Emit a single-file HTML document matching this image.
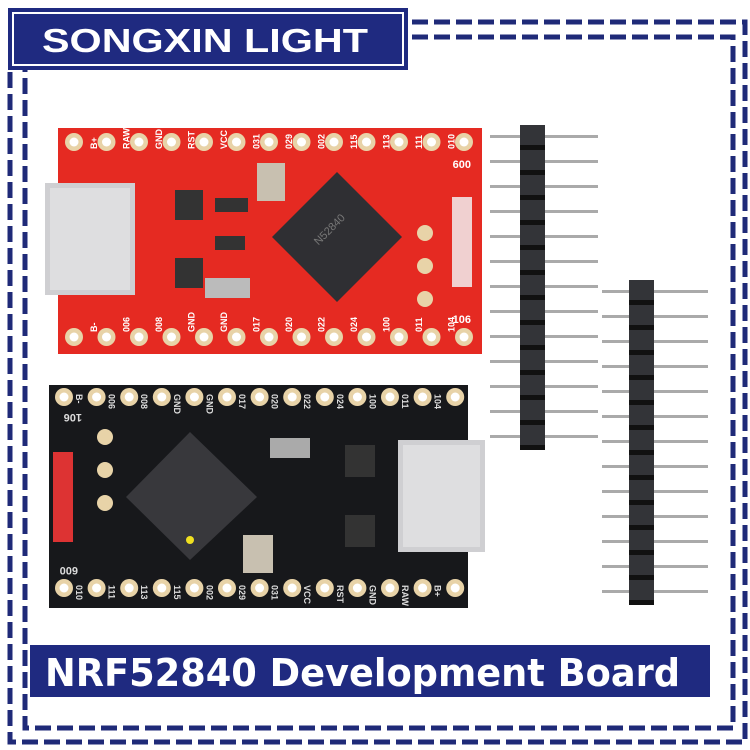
<!DOCTYPE html>
<html><head><meta charset="utf-8"><style>
html,body{margin:0;padding:0;background:#fff;}
svg{display:block;}
text{font-family:"Liberation Sans",sans-serif;}
</style></head><body>
<svg id="s" width="750" height="750" viewBox="0 0 750 750" xmlns="http://www.w3.org/2000/svg">
<rect width="750" height="750" fill="#fff"/>
<g fill="none" stroke="#1f2a78" stroke-width="5" stroke-dasharray="16 6">
<path d="M412 22 H745 V742 H10 V70"/>
<path d="M412 37 H733 V728 H25 V70"/>
</g>
<rect x="8" y="8" width="400" height="62" fill="#1f2a80"/>
<rect x="13" y="13" width="390" height="52" fill="none" stroke="#fff" stroke-width="2"/>
<text x="42" y="52" font-size="33" font-weight="bold" fill="#fff" textLength="326" lengthAdjust="spacingAndGlyphs">SONGXIN LIGHT</text>
<rect x="30" y="645" width="680" height="52" fill="#1f2a80"/>
<text x="45" y="686" font-size="38" font-weight="bold" fill="#fff" style="font-family:'DejaVu Sans Condensed','DejaVu Sans',sans-serif" textLength="635" lengthAdjust="spacingAndGlyphs">NRF52840 Development Board</text>
<rect x="58" y="128" width="424" height="226" fill="#e52a22"/>
<g id="redg"></g>
<rect x="45" y="183" width="90" height="112" fill="#cfcfd2"/>
<rect x="50" y="188" width="80" height="102" fill="#dedee0"/>
<polygon points="337,172 402,237 337,302 272,237" fill="#2f2f33"/>
<text x="337" y="230" text-anchor="middle" font-size="11" fill="#777" transform="rotate(-45 337 237)">N52840</text>
<rect x="205" y="278" width="45" height="20" fill="#bbb"/>
<rect x="257" y="163" width="28" height="38" fill="#c8c0b0"/>
<rect x="175" y="190" width="28" height="30" fill="#333"/>
<rect x="175" y="258" width="28" height="30" fill="#333"/>
<rect x="215" y="198" width="33" height="14" fill="#333"/>
<rect x="215" y="236" width="30" height="14" fill="#333"/>
<rect x="452" y="197" width="20" height="90" fill="#f0d0d0"/>
<text x="471" y="168" text-anchor="end" font-size="11" font-weight="bold" fill="#fff">600</text>
<text x="471" y="323" text-anchor="end" font-size="11" font-weight="bold" fill="#fff">106</text>
<rect x="49" y="385" width="419" height="223" fill="#17181b"/>
<g id="blkg"></g>
<rect x="398" y="440" width="87" height="112" fill="#cfcfd2"/>
<rect x="403" y="445" width="77" height="102" fill="#dedee0"/>
<polygon points="190,432 257,497 190,560 126,497" fill="#38383c"/>
<circle cx="190" cy="540" r="4" fill="#f0e020"/>
<rect x="270" y="438" width="40" height="20" fill="#aaa"/>
<rect x="243" y="535" width="30" height="38" fill="#c8c0b0"/>
<rect x="345" y="445" width="30" height="32" fill="#333"/>
<rect x="345" y="515" width="30" height="32" fill="#333"/>
<rect x="53" y="452" width="20" height="90" fill="#d33"/>
<text x="58" y="422" font-size="11" font-weight="bold" fill="#ddd" transform="rotate(180 70 418)">106</text>
<text x="54" y="575" font-size="11" font-weight="bold" fill="#ddd" transform="rotate(180 66 571)">600</text>
<g id="hdr"></g>
</svg>
<script>
var NS="http://www.w3.org/2000/svg";
function el(p,t,a){var e=document.createElementNS(NS,t);for(var k in a)e.setAttribute(k,a[k]);p.appendChild(e);return e;}
var r=document.getElementById('redg'),b=document.getElementById('blkg'),h=document.getElementById('hdr');
var rt=["B+","RAW","GND","RST","VCC","031","029","002","115","113","111","010"];
var rb=["B-","006","008","GND","GND","017","020","022","024","100","011","104"];
for(var i=0;i<13;i++){
 var x=74+i*32.5;
 [142,337].forEach(function(y){el(r,'circle',{cx:x,cy:y,r:9,fill:'#e8d3a8'});el(r,'circle',{cx:x,cy:y,r:4.5,fill:'#fff'});});
 var xb=64+i*32.6;
 [397,588].forEach(function(y){el(b,'circle',{cx:xb,cy:y,r:9,fill:'#e8d3a8'});el(b,'circle',{cx:xb,cy:y,r:4.5,fill:'#fff'});});
 if(i<12){
  var t=el(r,'text',{x:x+16,y:150,'font-size':9,'font-weight':'bold',fill:'#fff',transform:'rotate(-90 '+(x+19)+' 146)'});t.textContent=rt[i];
  t=el(r,'text',{x:x+16,y:333,'font-size':9,'font-weight':'bold',fill:'#fff',transform:'rotate(-90 '+(x+19)+' 329)'});t.textContent=rb[i];
  t=el(b,'text',{x:xb+10,y:404,'font-size':9,'font-weight':'bold',fill:'#ddd',transform:'rotate(90 '+(xb+16)+' 400)'});t.textContent=rb[i];
  t=el(b,'text',{x:xb+10,y:595,'font-size':9,'font-weight':'bold',fill:'#ddd',transform:'rotate(90 '+(xb+16)+' 591)'});t.textContent=rt[11-i];
 }
}
for(var i=0;i<3;i++){el(r,'circle',{cx:425,cy:233+i*33,r:8,fill:'#e8d3a8'});el(b,'circle',{cx:105,cy:437+i*33,r:8,fill:'#e8d3a8'});}
function strip(x0,y0,pl,pr){
 for(var i=0;i<13;i++){var y=y0+i*25;
  el(h,'rect',{x:pl,y:y+10,width:pr-pl,height:3,fill:'#aaa'});
 }
 for(var i=0;i<13;i++){var y=y0+i*25;
  el(h,'rect',{x:x0,y:y,width:25,height:23,fill:'#333438'});
  el(h,'rect',{x:x0,y:y+20,width:25,height:5,fill:'#111'});
 }
}
strip(520,125,490,598);
strip(629,280,602,708);
</script>
</body></html>
